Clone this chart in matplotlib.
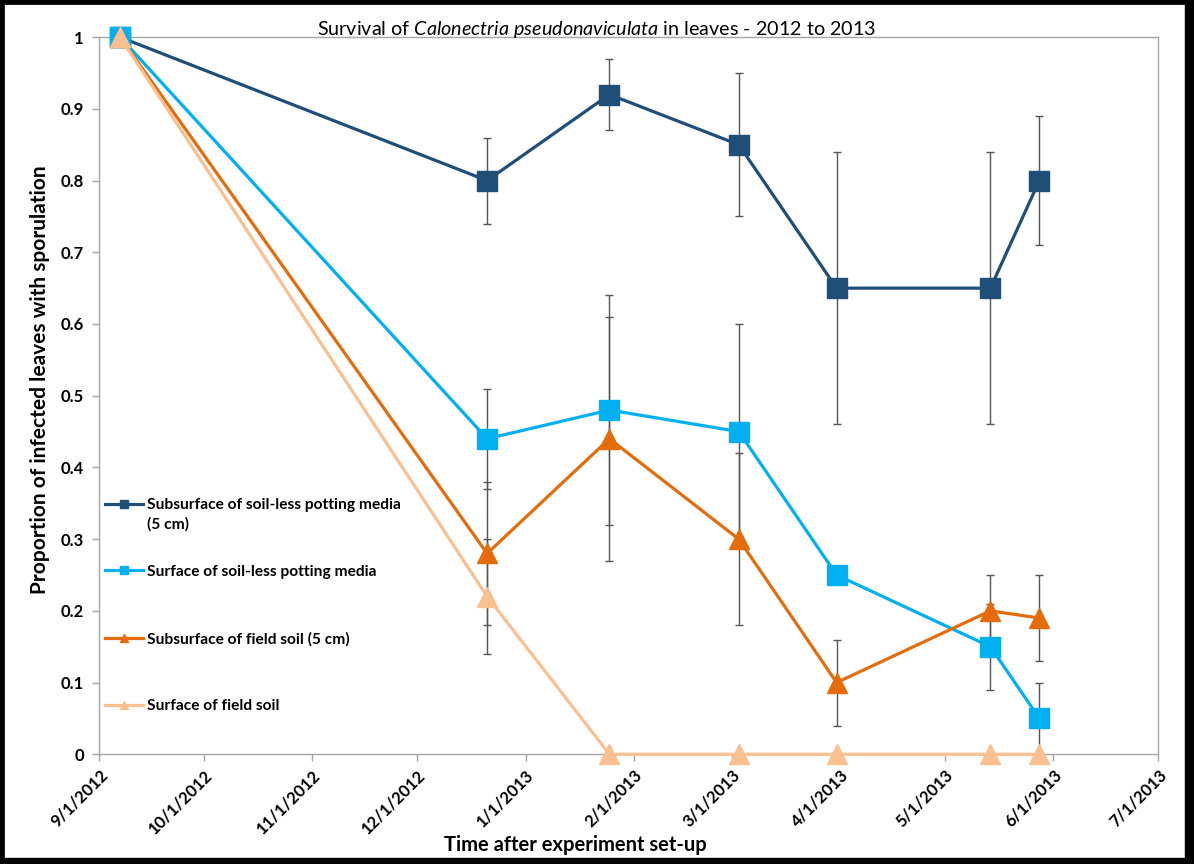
import datetime as dt
import matplotlib
matplotlib.use("Agg")
import matplotlib.pyplot as plt
import matplotlib.dates as mdates
from matplotlib.patches import Rectangle
from matplotlib.ticker import FuncFormatter, MultipleLocator

plt.rcParams['font.family'] = ['Lato', 'DejaVu Sans']
plt.rcParams['mathtext.fontset'] = 'custom'
plt.rcParams['mathtext.rm'] = 'Lato'
plt.rcParams['mathtext.it'] = 'Lato:italic'
plt.rcParams['mathtext.bf'] = 'Lato:bold'

# sampling dates
dates = [dt.date(2012, 9, 7), dt.date(2012, 12, 21), dt.date(2013, 1, 25),
         dt.date(2013, 3, 3), dt.date(2013, 3, 31), dt.date(2013, 5, 14),
         dt.date(2013, 5, 28)]

# proportion of infected leaves with sporulation, and error bar half-widths
sub_media = [1.0, 0.80, 0.92, 0.85, 0.65, 0.65, 0.80]
sub_media_err = [0, 0.06, 0.05, 0.10, 0.19, 0.19, 0.09]
surf_media = [1.0, 0.44, 0.48, 0.45, 0.25, 0.15, 0.05]
surf_media_err = [0, 0.07, 0.16, 0.15, 0, 0.06, 0.05]
sub_field = [1.0, 0.28, 0.44, 0.30, 0.10, 0.20, 0.19]
sub_field_err = [0, 0.10, 0.17, 0.12, 0.06, 0.05, 0.06]
surf_field = [1.0, 0.22, 0.0, 0.0, 0.0, 0.0, 0.0]
surf_field_err = [0, 0.08, 0, 0, 0, 0, 0]

series = [
    ("Subsurface of soil-less potting media", sub_media, sub_media_err, '#1F4E79', 's'),
    ("Surface of soil-less potting media", surf_media, surf_media_err, '#00B0F0', 's'),
    ("Subsurface of field soil (5 cm)", sub_field, sub_field_err, '#E46C0A', '^'),
    ("Surface of field soil", surf_field, surf_field_err, '#FAC090', '^'),
]

fig = plt.figure(figsize=(11.94, 8.64), dpi=100)
ax = fig.add_axes([0.083, 0.127, 0.887, 0.830])

for i, (label, vals, err, color, marker) in enumerate(series):
    ax.errorbar(dates, vals, yerr=err, fmt='none', ecolor='#555555',
                elinewidth=1, capsize=3, capthick=1, zorder=2)
    ax.plot(dates, vals, color=color, lw=2.3, marker=marker, markersize=14,
            label=label, zorder=3 + i, clip_on=False)

ax.set_xlim(dt.date(2012, 9, 1), dt.date(2013, 7, 1))
ax.set_ylim(0, 1)
ax.xaxis.set_major_locator(mdates.MonthLocator())
ax.xaxis.set_major_formatter(FuncFormatter(
    lambda v, pos: "{d.month}/{d.day}/{d.year}".format(d=mdates.num2date(v))))
ax.yaxis.set_major_locator(MultipleLocator(0.1))
ax.yaxis.set_major_formatter(FuncFormatter(lambda v, pos: "%g" % round(v, 1)))

ax.tick_params(axis='both', colors='#A6A6A6', labelcolor='black',
               labelsize=12, length=5, width=1)
ax.tick_params(axis='y', pad=6)
ax.tick_params(axis='x', pad=4)
for lab in ax.get_xticklabels():
    lab.set_rotation(45)
    lab.set_ha('right')
    lab.set_rotation_mode('anchor')
for lab in ax.get_xticklabels() + ax.get_yticklabels():
    lab.set_fontweight('bold')

for s in ax.spines.values():
    s.set_color('#A6A6A6')
    s.set_linewidth(1)

fig.text(0.5, 0.9595,
         r"Survival of $\it{Calonectria\ pseudonaviculata}$ in leaves - 2012 to 2013",
         fontsize=14.2, ha='center', va='baseline')
fig.text(0.0335, 0.56, "Proportion of infected leaves with sporulation",
         fontsize=15, fontweight='bold', rotation=90, ha='center', va='center')
fig.text(0.482, 0.022, "Time after experiment set-up", fontsize=14.5,
         fontweight='bold', ha='center', va='center')

leg = ax.legend(loc='upper left', bbox_to_anchor=(0.0, 0.366), borderaxespad=0,
                frameon=False, markerscale=0.45, handlelength=2.4,
                handletextpad=0.3, labelspacing=3.4,
                prop={'weight': 'bold', 'size': 11.2})
# second line of the first legend label sits in the gap below it;
# drawn after the legend so the anchor text is already placed
ax.annotate("(5 cm)", xy=(0, 0), xycoords=leg.get_texts()[0],
            xytext=(0, -4), textcoords='offset points', va='top', ha='left',
            fontsize=11.2, fontweight='bold', zorder=10)

# black frame around the figure
fig.patches.append(Rectangle((0, 0), 1, 1, transform=fig.transFigure,
                             fill=False, edgecolor='black', lw=7))
fig.patches.append(Rectangle((1 - 9 / 1194, 0), 9 / 1194, 1, transform=fig.transFigure,
                             color='black'))
fig.patches.append(Rectangle((0, 0), 1, 6 / 864, transform=fig.transFigure,
                             color='black'))

fig.savefig('out.png', dpi=100)
